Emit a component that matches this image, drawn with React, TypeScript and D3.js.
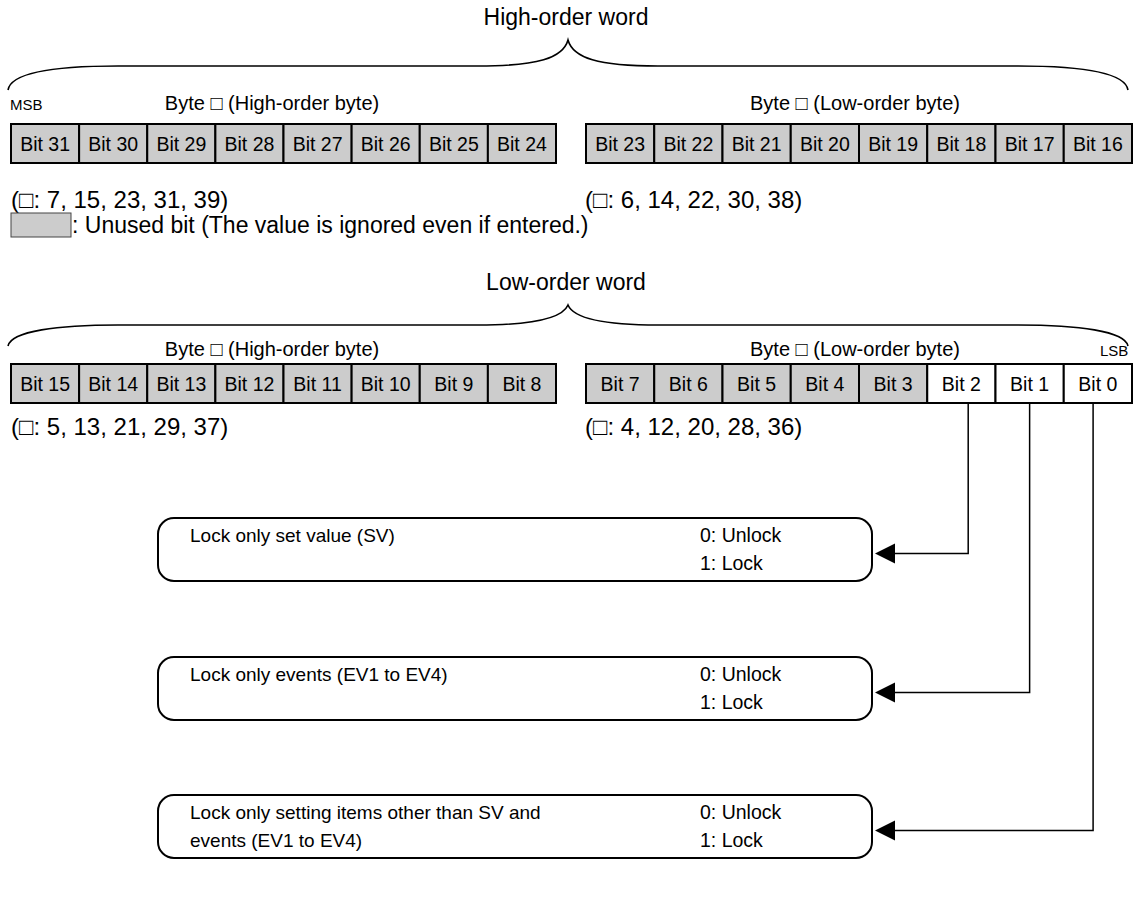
import React from "react";
import * as d3 from "d3";

const W = 1137;
const H = 908;
const FONT = "'Liberation Sans', Arial, Helvetica, sans-serif";

// ---- data ----
const wordTitles = ["High-order word", "Low-order word"];
const row1LeftBits = [31, 30, 29, 28, 27, 26, 25, 24];
const row1RightBits = [23, 22, 21, 20, 19, 18, 17, 16];
const row2LeftBits = [15, 14, 13, 12, 11, 10, 9, 8];
const row2RightBits = [7, 6, 5, 4, 3, 2, 1, 0];
const usedBits = [2, 1, 0];
const byteLabels = ["Byte \u25A1 (High-order byte)", "Byte \u25A1 (Low-order byte)"];
const byteNotes = [
  "(\u25A1: 7, 15, 23, 31, 39)",
  "(\u25A1: 6, 14, 22, 30, 38)",
  "(\u25A1: 5, 13, 21, 29, 37)",
  "(\u25A1: 4, 12, 20, 28, 36)",
];
const legendText = ": Unused bit (The value is ignored even if entered.)";
const lockBits = [2, 1, 0];
const lockDescriptions = [
  ["Lock only set value (SV)"],
  ["Lock only events (EV1 to EV4)"],
  ["Lock only setting items other than SV and", "events (EV1 to EV4)"],
];
const lockValues = ["0: Unlock", "1: Lock"];

// ---- layout ----
const leftRange: [number, number] = [11, 556];
const rightRange: [number, number] = [586, 1132];
const cellH = 39;
const rows = [
  { top: 124, left: row1LeftBits, right: row1RightBits, labelY: 110, noteY: 208, braceTop: 40, braceMid: 66, braceEnd: 90, titleY: 25 },
  { top: 364, left: row2LeftBits, right: row2RightBits, labelY: 356, noteY: 435, braceTop: 305, braceMid: 325, braceEnd: 346, titleY: 290 },
];
const boxX0 = 158;
const boxX1 = 872;
const boxTops = [518, 657, 795];
const boxH = 63;
const lineAnchor = [0.6, 0.5, 0.43]; // where each connector leaves its bit cell

function bracePath(x0: number, x1: number, yTop: number, yMid: number, yEnd: number) {
  const cx = (x0 + x1) / 2;
  const p = d3.path();
  p.moveTo(x0, yEnd);
  p.bezierCurveTo(x0 + 3, yMid + 6, x0 + 50, yMid, x0 + 110, yMid);
  p.lineTo(cx - 90, yMid);
  p.bezierCurveTo(cx - 30, yMid, cx - 5, yMid - 8, cx, yTop);
  p.bezierCurveTo(cx + 5, yMid - 8, cx + 30, yMid, cx + 90, yMid);
  p.lineTo(x1 - 110, yMid);
  p.bezierCurveTo(x1 - 50, yMid, x1 - 3, yMid + 6, x1, yEnd);
  return p.toString();
}

function roundedBox(x: number, y: number, w: number, h: number, r: number) {
  const p = d3.path();
  p.moveTo(x + r, y);
  p.lineTo(x + w - r, y);
  p.arcTo(x + w, y, x + w, y + r, r);
  p.lineTo(x + w, y + h - r);
  p.arcTo(x + w, y + h, x + w - r, y + h, r);
  p.lineTo(x + r, y + h);
  p.arcTo(x, y + h, x, y + h - r, r);
  p.lineTo(x, y + r);
  p.arcTo(x, y, x + r, y, r);
  p.closePath();
  return p.toString();
}

export default function App() {
  const scales = rows.map((r) => ({
    left: d3.scaleBand<number>().domain(r.left).range(leftRange),
    right: d3.scaleBand<number>().domain(r.right).range(rightRange),
  }));

  const cellFill = (b: number) => (usedBits.includes(b) ? "#ffffff" : "#cccccc");

  const row2Right = scales[1].right;
  const row2Bottom = rows[1].top + cellH;

  return (
    <svg
      width={W}
      height={H}
      style={{ display: "block", background: "#fff", position: "absolute", left: 0, top: 0 }}
      fontFamily={FONT}
    >
      {rows.map((r, ri) => {
        const sc = scales[ri];
        return (
          <g key={ri}>
            <text x={566} y={r.titleY} fontSize={23} textAnchor="middle">{wordTitles[ri]}</text>
            <path d={bracePath(8, 1128, r.braceTop, r.braceMid, r.braceEnd)} fill="none" stroke="#000" strokeWidth={1.6} />
            <text x={272} y={r.labelY} fontSize={20} textAnchor="middle">{byteLabels[0]}</text>
            <text x={855} y={r.labelY} fontSize={20} textAnchor="middle">{byteLabels[1]}</text>
            {ri === 0 && <text x={10} y={r.labelY} fontSize={15}>MSB</text>}
            {ri === 1 && <text x={1100} y={r.labelY} fontSize={15}>LSB</text>}
            {[sc.left, sc.right].map((s, si) => (
              <g key={si}>
                {s.domain().map((b) => (
                  <g key={b}>
                    <rect x={s(b)} y={r.top} width={s.bandwidth()} height={cellH} fill={cellFill(b)} stroke="#000" strokeWidth={2} />
                    <text x={(s(b) as number) + s.bandwidth() / 2} y={r.top + cellH / 2 + 7} fontSize={19.5} textAnchor="middle">{`Bit ${b}`}</text>
                  </g>
                ))}
              </g>
            ))}
            <text x={11} y={r.noteY} fontSize={24}>{byteNotes[ri * 2]}</text>
            <text x={585} y={r.noteY} fontSize={24}>{byteNotes[ri * 2 + 1]}</text>
          </g>
        );
      })}

      <rect x={11} y={213} width={60} height={24} fill="#cccccc" stroke="#444" strokeWidth={1} />
      <text x={72} y={233} fontSize={23}>{legendText}</text>

      {lockBits.map((b, i) => {
        const top = boxTops[i];
        const cy = top + boxH / 2;
        const ay = cy + 4;
        const x = (row2Right(b) as number) + row2Right.bandwidth() * lineAnchor[i];
        const lines = lockDescriptions[i];
        const y1 = cy - 8;
        return (
          <g key={b}>
            <path d={roundedBox(boxX0, top, boxX1 - boxX0, boxH, 16)} fill="none" stroke="#000" strokeWidth={2} />
            {lines.map((t, li) => (
              <text key={li} x={190} y={y1 + li * 28} fontSize={19}>{t}</text>
            ))}
            {lockValues.map((t, li) => (
              <text key={li} x={700} y={cy - 8 + li * 28} fontSize={19.5}>{t}</text>
            ))}
            <path d={`M${x},${row2Bottom} V${ay} H${boxX1 + 22}`} fill="none" stroke="#000" strokeWidth={1.5} />
            <path d={`M${boxX1 + 3},${ay} L${boxX1 + 23},${ay - 10} L${boxX1 + 23},${ay + 10} Z`} fill="#000" />
          </g>
        );
      })}
    </svg>
  );
}
